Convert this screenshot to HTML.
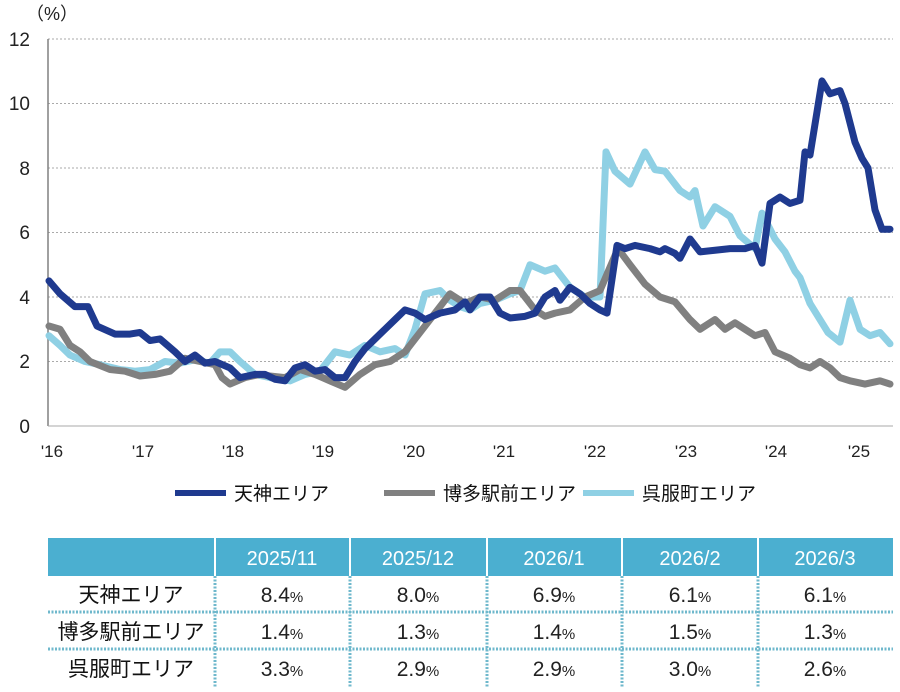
<!DOCTYPE html><html><head><meta charset="utf-8"><style>body{margin:0;background:#fff}svg{display:block}text{font-family:"Liberation Sans","Noto Sans CJK JP",sans-serif}</style></head><body>
<svg width="900" height="692" viewBox="0 0 900 692">
<g stroke="#aaa" stroke-dasharray="2,2" stroke-width="1">
<line x1="48" y1="39" x2="893" y2="39"/><line x1="48" y1="103.5" x2="893" y2="103.5"/><line x1="48" y1="168" x2="893" y2="168"/><line x1="48" y1="232.5" x2="893" y2="232.5"/><line x1="48" y1="297" x2="893" y2="297"/><line x1="48" y1="361.5" x2="893" y2="361.5"/></g>
<line x1="48" y1="39" x2="48" y2="426" stroke="#808080" stroke-width="1.5"/>
<line x1="48" y1="426" x2="893" y2="426" stroke="#aaa" stroke-width="1"/>
<g font-size="19" fill="#222" text-anchor="end"><text x="30" y="46">12</text><text x="30" y="110">10</text><text x="30" y="175">8</text><text x="30" y="239">6</text><text x="30" y="304">4</text><text x="30" y="368">2</text><text x="30" y="433">0</text></g>
<text x="26" y="20" font-size="18" fill="#222">（%）</text>
<g font-size="17" fill="#222" text-anchor="middle"><text x="52" y="457">'16</text><text x="143" y="457">'17</text><text x="233" y="457">'18</text><text x="323" y="457">'19</text><text x="414" y="457">'20</text><text x="504" y="457">'21</text><text x="595" y="457">'22</text><text x="686" y="457">'23</text><text x="776" y="457">'24</text><text x="859" y="457">'25</text></g>
<g fill="none" stroke-width="7" stroke-linejoin="round" stroke-linecap="round" transform="translate(0,426) scale(1,-32.25)">
<polyline vector-effect="non-scaling-stroke" stroke="#8fd0e4" points="49,2.8 60,2.5 70,2.2 85,2 100,1.9 120,1.75 135,1.7 150,1.75 165,2 180,1.95 195,2.05 210,1.95 220,2.3 230,2.3 240,2 255,1.6 270,1.5 290,1.4 305,1.6 320,1.7 335,2.3 350,2.2 365,2.5 380,2.3 395,2.4 405,2.2 415,3 425,4.1 440,4.2 450,3.9 460,3.7 470,3.6 480,3.8 495,3.9 510,4.1 520,4.2 530,5 545,4.8 555,4.9 570,4.3 585,4 600,4 606,8.5 615,7.9 630,7.5 645,8.5 655,7.95 665,7.9 680,7.3 690,7.1 695,7.3 703,6.2 715,6.8 730,6.5 740,5.9 755,5.5 762,6.6 775,5.8 785,5.4 795,4.8 800,4.6 810,3.8 828,2.9 840,2.6 850,3.9 860,3 870,2.8 880,2.9 890,2.55"/>
<polyline vector-effect="non-scaling-stroke" stroke="#808080" points="49,3.1 60,3 70,2.5 80,2.3 90,2 110,1.75 125,1.7 140,1.55 155,1.6 170,1.7 185,2.1 200,2 215,1.9 222,1.5 230,1.3 245,1.5 260,1.6 270,1.55 285,1.5 300,1.75 315,1.6 330,1.4 345,1.2 360,1.6 375,1.9 390,2 405,2.3 420,2.9 435,3.5 450,4.1 465,3.8 480,4 495,3.9 510,4.2 520,4.2 535,3.6 545,3.4 555,3.5 570,3.6 585,4 600,4.2 618,5.5 630,5 645,4.4 660,4 675,3.85 690,3.3 700,3 715,3.3 725,3 735,3.2 745,3 755,2.8 765,2.9 775,2.3 790,2.1 800,1.9 810,1.8 820,2 830,1.8 840,1.5 850,1.4 865,1.3 880,1.4 890,1.3"/>
<polyline vector-effect="non-scaling-stroke" stroke="#1f3a8f" points="49,4.5 60,4.1 75,3.7 88,3.7 97,3.1 115,2.85 130,2.85 140,2.9 150,2.65 160,2.7 175,2.3 185,2 195,2.2 205,1.95 215,2 230,1.8 240,1.5 255,1.6 265,1.6 275,1.45 285,1.4 295,1.8 305,1.9 315,1.7 325,1.75 335,1.5 345,1.5 355,2 365,2.4 375,2.7 385,3 395,3.3 405,3.6 415,3.5 425,3.3 440,3.5 455,3.6 465,3.85 470,3.6 480,4 490,4 500,3.5 510,3.35 525,3.4 535,3.5 545,4 555,4.2 560,3.9 570,4.3 580,4.1 590,3.8 600,3.6 607,3.5 617,5.6 625,5.5 635,5.6 650,5.5 660,5.4 665,5.5 675,5.35 680,5.2 690,5.8 700,5.4 715,5.45 730,5.5 745,5.5 755,5.6 762,5.05 770,6.9 780,7.1 790,6.9 800,7 805,8.5 810,8.4 822,10.7 830,10.3 840,10.4 845,10 855,8.8 862,8.3 868,8 875,6.7 882,6.1 890,6.1"/>
</g>
<g stroke-width="6"><line x1="175" y1="493" x2="226" y2="493" stroke="#1f3a8f"/><line x1="384" y1="493" x2="435" y2="493" stroke="#808080"/><line x1="583" y1="493" x2="634" y2="493" stroke="#8fd0e4"/></g>
<g font-size="19" fill="#111"><text x="234" y="500">天神エリア</text><text x="443" y="500">博多駅前エリア</text><text x="642" y="500">呉服町エリア</text></g>
<rect x="48" y="538" width="845" height="38" fill="#4bafd0"/>
<g stroke="#fff" stroke-width="2"><line x1="215" y1="538" x2="215" y2="576"/><line x1="350" y1="538" x2="350" y2="576"/><line x1="487" y1="538" x2="487" y2="576"/><line x1="622" y1="538" x2="622" y2="576"/><line x1="758" y1="538" x2="758" y2="576"/></g>
<g stroke="#6fb8cc" stroke-width="3" stroke-dasharray="2,1.5"><line x1="48" y1="612" x2="893" y2="612"/><line x1="48" y1="649" x2="893" y2="649"/><line x1="215" y1="576" x2="215" y2="688"/><line x1="350" y1="576" x2="350" y2="688"/><line x1="487" y1="576" x2="487" y2="688"/><line x1="622" y1="576" x2="622" y2="688"/><line x1="758" y1="576" x2="758" y2="688"/></g>
<g font-size="20" fill="#fff" text-anchor="middle"><text x="282" y="565">2025/11</text><text x="418" y="565">2025/12</text><text x="554" y="565">2026/1</text><text x="690" y="565">2026/2</text><text x="825" y="565">2026/3</text></g>
<g font-size="21" fill="#111" text-anchor="middle"><text x="131" y="602">天神エリア</text><text x="131" y="639">博多駅前エリア</text><text x="131" y="676">呉服町エリア</text></g>
<g font-size="21" fill="#222" text-anchor="middle">
<text x="282" y="602">8.4<tspan font-size="15">%</tspan></text><text x="418" y="602">8.0<tspan font-size="15">%</tspan></text><text x="554" y="602">6.9<tspan font-size="15">%</tspan></text><text x="690" y="602">6.1<tspan font-size="15">%</tspan></text><text x="825" y="602">6.1<tspan font-size="15">%</tspan></text>
<text x="282" y="639">1.4<tspan font-size="15">%</tspan></text><text x="418" y="639">1.3<tspan font-size="15">%</tspan></text><text x="554" y="639">1.4<tspan font-size="15">%</tspan></text><text x="690" y="639">1.5<tspan font-size="15">%</tspan></text><text x="825" y="639">1.3<tspan font-size="15">%</tspan></text>
<text x="282" y="676">3.3<tspan font-size="15">%</tspan></text><text x="418" y="676">2.9<tspan font-size="15">%</tspan></text><text x="554" y="676">2.9<tspan font-size="15">%</tspan></text><text x="690" y="676">3.0<tspan font-size="15">%</tspan></text><text x="825" y="676">2.6<tspan font-size="15">%</tspan></text>
</g>
</svg></body></html>
